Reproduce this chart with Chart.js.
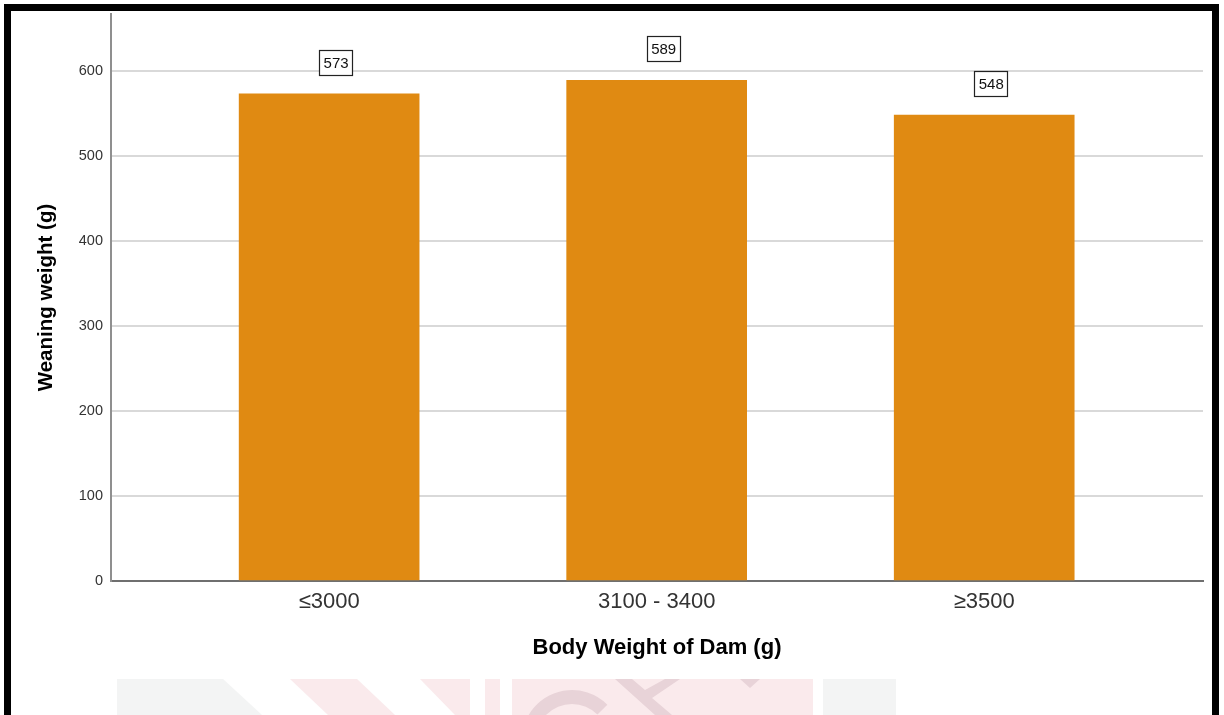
<!DOCTYPE html>
<html>
<head>
<meta charset="utf-8">
<script src="https://cdn.jsdelivr.net/npm/chart.js@4/dist/chart.umd.min.js"></script>
<style>
  html, body { margin: 0; padding: 0; background: #ffffff; }
  #wrap { position: relative; width: 1224px; height: 715px; overflow: hidden; }
  canvas { display: block; }
</style>
</head>
<body>
<div id="wrap"><canvas id="c" width="1224" height="715"></canvas></div>
<script>
// ---- data ----
const categories = ['\u22643000', '3100 - 3400', '\u22653500'];
const weaningWeight = [573, 589, 548];
const yTickValues = [0, 100, 200, 300, 400, 500, 600];
const xAxisTitle = 'Body Weight of Dam (g)';
const yAxisTitle = 'Weaning weight (g)';

const FONT = '"Liberation Sans", Arial, sans-serif';

const decorPlugin = {
  id: 'decor',
  beforeDraw(chart) {
    const ctx = chart.ctx;
    ctx.save();
    ctx.fillStyle = '#ffffff';
    ctx.fillRect(0, 0, chart.width, chart.height);
    // faint watermark at the bottom
    const y0 = 679, y1 = 715;
    ctx.fillStyle = '#f3f4f4';
    ctx.beginPath(); ctx.moveTo(117, y0); ctx.lineTo(223, y0); ctx.lineTo(262, y1); ctx.lineTo(117, y1); ctx.closePath(); ctx.fill();
    ctx.fillStyle = '#faeaec';
    ctx.beginPath(); ctx.moveTo(290, y0); ctx.lineTo(357, y0); ctx.lineTo(395, y1); ctx.lineTo(328, y1); ctx.closePath(); ctx.fill();
    ctx.beginPath(); ctx.moveTo(420, y0); ctx.lineTo(470, y0); ctx.lineTo(470, y1); ctx.lineTo(455, y1); ctx.closePath(); ctx.fill();
    ctx.fillRect(485, y0, 15, y1 - y0);
    ctx.fillRect(512, y0, 301, y1 - y0);
    ctx.fillStyle = '#f3f4f4';
    ctx.fillRect(823, y0, 73, y1 - y0);
    // darker shapes inside the pink block
    ctx.fillStyle = '#e8d3d8';
    ctx.beginPath(); ctx.arc(572, 740, 50, Math.PI * 1.1, Math.PI * 1.75); ctx.arc(572, 740, 36, Math.PI * 1.75, Math.PI * 1.1, true); ctx.closePath(); ctx.fill();
    ctx.beginPath(); ctx.moveTo(615, y0); ctx.lineTo(632, y0); ctx.lineTo(645, 690); ctx.lineTo(665, y0); ctx.lineTo(680, y0); ctx.lineTo(652, 698); ctx.lineTo(672, y1); ctx.lineTo(655, y1); ctx.closePath(); ctx.fill();
    ctx.beginPath(); ctx.moveTo(740, y0); ctx.lineTo(760, y0); ctx.lineTo(750, 688); ctx.closePath(); ctx.fill();
    ctx.restore();
  },
  afterDatasetsDraw(chart) {
    const ctx = chart.ctx;
    const meta = chart.getDatasetMeta(0);
    ctx.save();
    ctx.font = '15px ' + FONT;
    ctx.textAlign = 'center';
    ctx.textBaseline = 'middle';
    meta.data.forEach((bar, i) => {
      const txt = String(chart.data.datasets[0].data[i]);
      const cx = bar.x + 6.5;
      const cy = bar.y - 31.5;
      const w = 33, h = 25;
      ctx.fillStyle = '#ffffff';
      ctx.fillRect(Math.round(cx - w / 2) + 0.5, Math.round(cy - h / 2) + 0.5, w, h);
      ctx.strokeStyle = '#222222';
      ctx.lineWidth = 1.2;
      ctx.strokeRect(Math.round(cx - w / 2) + 0.5, Math.round(cy - h / 2) + 0.5, w, h);
      ctx.fillStyle = '#111111';
      ctx.fillText(txt, cx + 0.5, cy + 1);
    });
    ctx.restore();
  },
  afterDraw(chart) {
    const ctx = chart.ctx;
    ctx.save();
    ctx.fillStyle = '#000000';
    ctx.fillRect(4, 4, 1215, 7);     // top
    ctx.fillRect(4, 4, 7, 711);      // left
    ctx.fillRect(1212, 4, 7, 711);   // right
    ctx.restore();
  }
};

new Chart(document.getElementById('c'), {
  type: 'bar',
  data: {
    labels: categories,
    datasets: [{
      data: weaningWeight,
      backgroundColor: '#e08a12',
      borderWidth: 0,
      barThickness: 180
    }]
  },
  plugins: [decorPlugin],
  options: {
    responsive: false,
    animation: false,
    devicePixelRatio: 1,
    layout: { padding: { left: 0, top: 14, right: 21, bottom: 0 } },
    plugins: { legend: { display: false }, tooltip: { enabled: false } },
    scales: {
      x: {
        type: 'category',
        offset: true,
        grid: { display: false, drawTicks: false },
        border: { display: true, color: '#6f6f6f', width: 2 },
        ticks: { color: '#333333', font: { family: FONT, size: 22 }, padding: 8, maxRotation: 0 },
        title: { display: true, text: xAxisTitle, color: '#000000', font: { family: FONT, size: 22, weight: 'bold' }, padding: { top: 0, bottom: 54 } },
        afterFit(s) { s.height = 134; s.paddingLeft = 0; s.paddingRight = 0; },
        afterBuildTicks(s) { s._startValue = -0.666; s._valueRange = 3.334; }
      },
      y: {
        min: 0,
        max: 667,
        grid: {
          drawTicks: false,
          lineWidth: 2,
          color: (c) => (c.tick && c.tick.value === 0) ? 'rgba(0,0,0,0)' : '#d9d9d9'
        },
        border: { display: true, color: '#8f8f8f', width: 2 },
        ticks: { color: '#333333', font: { family: FONT, size: 14.5 }, padding: 8 },
        title: { display: true, text: yAxisTitle, color: '#000000', font: { family: FONT, size: 20.5, weight: 'bold' }, padding: { top: 34, bottom: 0 } },
        afterFit(s) { s.width = 111; s.paddingTop = 0; s.paddingBottom = 0; },
        afterBuildTicks(s) { s.ticks = yTickValues.map(v => ({ value: v })); }
      }
    }
  }
});
</script>
</body>
</html>
